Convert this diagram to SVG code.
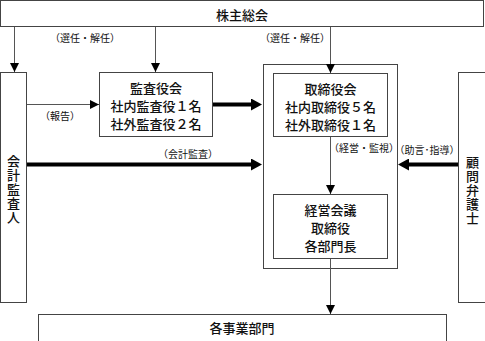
<svg xmlns="http://www.w3.org/2000/svg" width="485" height="341" viewBox="0 0 485 341">
<style>
.box{fill:#fff;stroke:#444;stroke-width:1}
.t{font-family:"Noto Sans CJK JP","Noto Sans CJK SC",sans-serif;font-size:13px;font-weight:500;fill:#111;text-anchor:middle;dominant-baseline:central}
.v{font-family:"Noto Sans CJK JP","Noto Sans CJK SC",sans-serif;font-size:13px;font-weight:500;fill:#111;text-anchor:middle;writing-mode:vertical-rl;letter-spacing:1px}
.s{font-family:"Noto Sans CJK JP","Noto Sans CJK SC",sans-serif;font-size:10px;fill:#111;text-anchor:middle;dominant-baseline:central}
.thin{stroke:#555;stroke-width:1;fill:none}
.thick{stroke:#000;stroke-width:4;fill:none}
</style>
<defs>
<marker id="ah" markerUnits="userSpaceOnUse" markerWidth="9" markerHeight="9" refX="9" refY="4.5" orient="auto"><path d="M0,0 L9,4.5 L0,9 z" fill="#000"/></marker>
<marker id="ahb" markerUnits="userSpaceOnUse" markerWidth="11" markerHeight="12" refX="6" refY="6" orient="auto"><path d="M0,0 L11,6 L0,12 z" fill="#000"/></marker>
</defs>
<rect width="485" height="341" fill="#fff"/>
<g id="outer">
<rect class="box" x="263.5" y="64.5" width="134" height="204"/>
</g>
<g id="shareholders">
<rect class="box" x="0.5" y="0.5" width="483" height="26"/>
<text class="t" x="242" y="14">株主総会</text>
</g>
<g id="auditor">
<rect class="box" x="0.5" y="72.5" width="26" height="230"/>
<text class="v" x="13.5" y="190">会計監査人</text>
</g>
<g id="kansayakukai">
<rect class="box" x="99.5" y="72.5" width="113" height="64"/>
<text class="t" x="156" y="87">監査役会</text>
<text class="t" x="156" y="105">社内監査役１名</text>
<text class="t" x="156" y="123">社外監査役２名</text>
</g>
<g id="torishimariyakukai">
<rect class="box" x="273.5" y="73.5" width="114" height="63"/>
<text class="t" x="330.5" y="88">取締役会</text>
<text class="t" x="330.5" y="106">社内取締役５名</text>
<text class="t" x="330.5" y="124">社外取締役１名</text>
</g>
<g id="keieikaigi">
<rect class="box" x="273.5" y="194.5" width="114" height="64"/>
<text class="t" x="330.5" y="209">経営会議</text>
<text class="t" x="330.5" y="227">取締役</text>
<text class="t" x="330.5" y="245">各部門長</text>
</g>
<g id="lawyer">
<rect class="box" x="458.5" y="72.5" width="30" height="230"/>
<text class="v" x="472.5" y="191">顧問弁護士</text>
</g>
<g id="departments">
<rect class="box" x="38.5" y="314.5" width="408" height="30"/>
<text class="t" x="242" y="327.5">各事業部門</text>
</g>
<g id="connectors">
<line class="thin" x1="14.5" y1="27" x2="14.5" y2="72" marker-end="url(#ah)"/>
<line class="thin" x1="155.5" y1="27" x2="155.5" y2="72" marker-end="url(#ah)"/>
<line class="thin" x1="330.5" y1="27" x2="330.5" y2="73" marker-end="url(#ah)"/>
<line class="thin" x1="27" y1="104.5" x2="99" y2="104.5" marker-end="url(#ah)"/>
<line class="thick" x1="213" y1="104.5" x2="257" y2="104.5" marker-end="url(#ahb)"/>
<line class="thick" x1="27" y1="164.5" x2="257" y2="164.5" marker-end="url(#ahb)"/>
<line class="thick" x1="458" y1="164.5" x2="403" y2="164.5" marker-end="url(#ahb)"/>
<line class="thin" x1="330.5" y1="137" x2="330.5" y2="194" marker-end="url(#ah)"/>
<line class="thin" x1="330.5" y1="259" x2="330.5" y2="314" marker-end="url(#ah)"/>
<text class="s" x="85" y="37">（選任・解任）</text>
<text class="s" x="295" y="37">（選任・解任）</text>
<text class="s" x="60" y="115">（報告）</text>
<text class="s" x="188" y="153">（会計監査）</text>
<text class="s" x="364" y="147">（経営・監視）</text>
<text class="s" x="427" y="149">（助言･指導）</text>
</g>
</svg>
